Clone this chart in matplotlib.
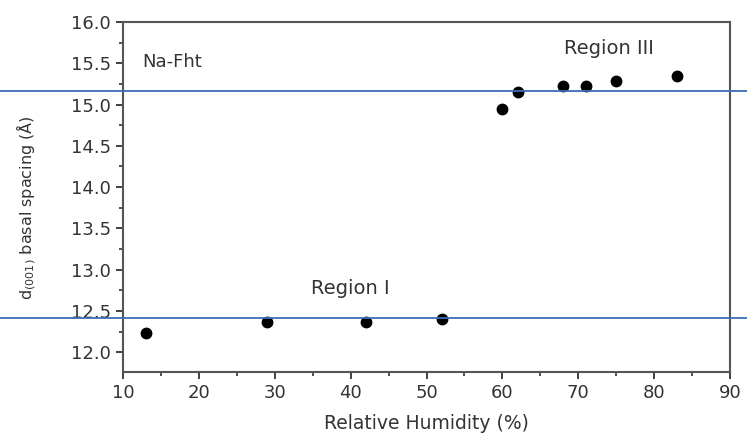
import numpy as np
import matplotlib.pyplot as plt
from matplotlib.ticker import MultipleLocator

# relative humidity (%) and d(001) basal spacing (Angstrom)
rh = [13, 29, 42, 52, 60, 62, 68, 71, 75, 83]
d001 = [12.23, 12.36, 12.36, 12.40, 14.95, 15.15, 15.22, 15.22, 15.28, 15.34]
ref_levels = [15.17, 12.41]

plt.rcParams['font.family'] = ['DejaVu Sans']
fig = plt.figure(figsize=(7.47, 4.36), dpi=100)
ax = fig.add_axes([0.1647, 0.1468, 0.8126, 0.8027])

ax.plot(rh, d001, 'o', color='black', markersize=7.5)

ax.set_xlim(10, 90)
ax.set_ylim(11.76, 16.0)
ax.xaxis.set_major_locator(MultipleLocator(10))
ax.xaxis.set_minor_locator(MultipleLocator(5))
ax.yaxis.set_major_locator(MultipleLocator(0.5))
ax.yaxis.set_minor_locator(MultipleLocator(0.25))
ax.yaxis.set_major_formatter(plt.FormatStrFormatter('%.1f'))
ax.tick_params(which='major', direction='out', length=5, width=1.3,
               colors='#333333', labelsize=13, labelcolor='#333333')
ax.tick_params(which='minor', direction='out', length=3, width=1.2, colors='#333333')
for s in ax.spines.values():
    s.set_color('#555555')
    s.set_linewidth(1.5)

ax.set_xlabel('Relative Humidity (%)', fontsize=13.5, color='#333333', labelpad=9)
ax.set_ylabel(r'd$_{(001)}$ basal spacing ($\mathrm{\AA}$)', fontsize=11.5,
              color='#333333')
ax.yaxis.set_label_coords(-0.14, 0.47)

ax.text(12.5, 15.51, 'Na-Fht', fontsize=13, color='#333333', va='center')
ax.text(74, 15.68, 'Region III', fontsize=14, color='#333333',
        va='center', ha='center')
ax.text(40, 12.77, 'Region I', fontsize=14, color='#333333',
        va='center', ha='center')

# blue reference lines across the whole figure width
for lv in ref_levels:
    ax.plot([-0.21, 1.04], [lv, lv], color='#3b6db5', linewidth=1.3,
            transform=ax.get_yaxis_transform(), clip_on=False, zorder=5)

fig.savefig('out.png', dpi=100)
